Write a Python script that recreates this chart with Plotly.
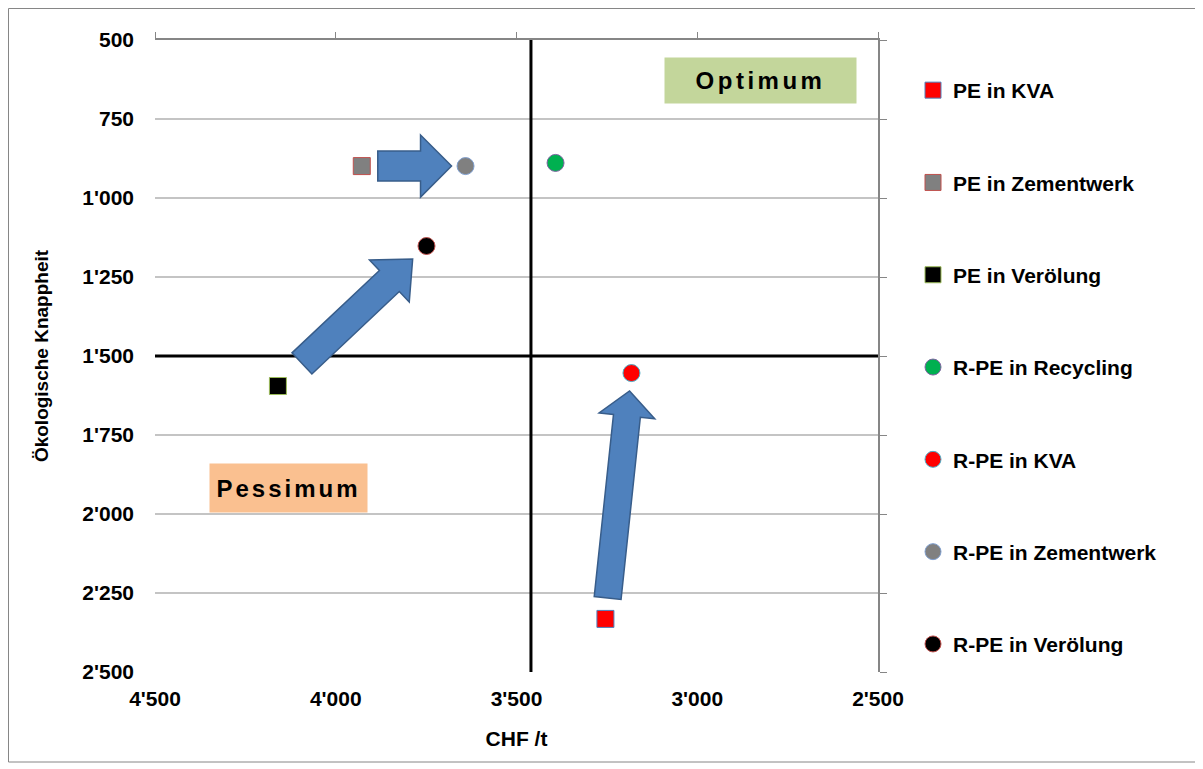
import math
import plotly.graph_objects as go

# ---------------- data ----------------
series_names = ["PE in KVA", "PE in Zementwerk", "PE in Verölung",
                "R-PE in Recycling", "R-PE in KVA", "R-PE in Zementwerk", "R-PE in Verölung"]
cost_chf = [3254, 3928, 4160, 3392, 3182, 3641, 3749]
eco_scarcity = [2332, 899, 1595, 889, 1554, 899, 1152]

x_tickvals = [4500, 4000, 3500, 3000, 2500]
x_ticktext = ["4'500", "4'000", "3'500", "3'000", "2'500"]
y_tickvals = [500, 750, 1000, 1250, 1500, 1750, 2000, 2250, 2500]
y_ticktext = ["500", "750", "1'000", "1'250", "1'500", "1'750", "2'000", "2'250", "2'500"]

# arrows: from series -> to series
arrow_pairs = [("PE in Zementwerk", "R-PE in Zementwerk"),
               ("PE in Verölung", "R-PE in Verölung"),
               ("PE in KVA", "R-PE in KVA")]

# reference lines (quadrant dividers)
divider_x = 3460
divider_y = 1500

# ---------------- styles ----------------
symbols = ["square", "square", "square", "circle", "circle", "circle", "circle"]
fill_colors = ["#FF0000", "#808080", "#000000", "#00B050", "#FF0000", "#808080", "#000000"]
edge_colors = ["#4F81BD", "#C0504D", "#9BBB59", "#8064A2", "#4BACC6", "#7F9FCF", "#C0504D"]
# gaps (px) at tail/tip, shaft width, head width, head length
arrow_geom = [(16, 14, 30, 62, 31), (33, 19, 29, 58, 32), (21, 18, 27, 56, 25)]

FONT = "Liberation Sans, Arial, sans-serif"
W, H = 1203, 769
ML, MT = 147, 32
PW, PH = 723, 632
MR, MB = W - ML - PW, H - MT - PH
X_RANGE = [4500, 2500]
Y_RANGE = [2500, 500]


def to_px(x, y):
    return ((X_RANGE[0] - x) / (X_RANGE[0] - X_RANGE[1]) * PW,
            (y - Y_RANGE[1]) / (Y_RANGE[0] - Y_RANGE[1]) * PH)


def to_data(px, py):
    return (X_RANGE[0] - px / PW * (X_RANGE[0] - X_RANGE[1]),
            Y_RANGE[1] + py / PH * (Y_RANGE[0] - Y_RANGE[1]))


fig = go.Figure()
for i, name in enumerate(series_names):
    fig.add_trace(go.Scatter(
        x=[cost_chf[i]], y=[eco_scarcity[i]], mode="markers", name=name,
        legendgroup=name,
        marker=dict(symbol=symbols[i], size=17, color=fill_colors[i],
                    line=dict(color=edge_colors[i], width=1)),
    ))

# helper trace so the mirror axes are drawn
fig.add_trace(go.Scatter(x=[3500], y=[1500], xaxis="x2", yaxis="y2", mode="markers",
                         marker=dict(opacity=0), showlegend=False, hoverinfo="skip"))

shapes = []
# quadrant lines
shapes.append(dict(type="line", xref="x", yref="y", x0=divider_x, x1=divider_x,
                   y0=Y_RANGE[1], y1=Y_RANGE[0], line=dict(color="black", width=3)))
shapes.append(dict(type="line", xref="x", yref="y", x0=X_RANGE[0], x1=X_RANGE[1] - 20,
                   y0=divider_y, y1=divider_y, line=dict(color="black", width=3)))

# block arrows derived from data points
for (a, b), (g0, g1, sw, hw, hl) in zip(arrow_pairs, arrow_geom):
    ia, ib = series_names.index(a), series_names.index(b)
    sx, sy = to_px(cost_chf[ia], eco_scarcity[ia])
    ex, ey = to_px(cost_chf[ib], eco_scarcity[ib])
    L = math.hypot(ex - sx, ey - sy)
    ux, uy = (ex - sx) / L, (ey - sy) / L
    nx, ny = -uy, ux
    tx, ty = sx + ux * g0, sy + uy * g0
    px_, py_ = ex - ux * g1, ey - uy * g1
    bx, by = px_ - ux * hl, py_ - uy * hl
    pts = [(tx + nx * sw / 2, ty + ny * sw / 2), (bx + nx * sw / 2, by + ny * sw / 2),
           (bx + nx * hw / 2, by + ny * hw / 2), (px_, py_),
           (bx - nx * hw / 2, by - ny * hw / 2), (bx - nx * sw / 2, by - ny * sw / 2),
           (tx - nx * sw / 2, ty - ny * sw / 2)]
    dpts = [to_data(*p) for p in pts]
    path = "M " + " L ".join(f"{x:.2f},{y:.2f}" for x, y in dpts) + " Z"
    shapes.append(dict(type="path", xref="x", yref="y", path=path,
                       fillcolor="#4F81BD", line=dict(color="#385D8A", width=1.5)))

# outer chart border
shapes.append(dict(type="rect", xref="paper", yref="paper",
                   x0=(0.5 - ML) / PW, x1=(1190 - ML) / PW,
                   y0=1 - (754 - MT) / PH, y1=1 - (0.5 - MT) / PH,
                   line=dict(color="#868686", width=1), fillcolor="rgba(0,0,0,0)"))

annotations = [
    dict(x=2825, y=628, xref="x", yref="y", showarrow=False,
         text='<b><span style="letter-spacing:3.5px">Optimum</span></b>',
         font=dict(family=FONT, size=24, color="black"),
         bgcolor="#C3D69B", width=191, height=45, borderpad=0),
    dict(x=4131, y=1918, xref="x", yref="y", showarrow=False,
         text='<b><span style="letter-spacing:3px">Pessimum</span></b>',
         font=dict(family=FONT, size=24, color="black"),
         bgcolor="#FAC090", width=157, height=48, borderpad=0),
]

tickfont = dict(family=FONT, size=21, color="black", weight="bold")

fig.update_layout(
    width=W, height=H,
    margin=dict(l=ML, r=MR, t=MT, b=MB, autoexpand=False),
    paper_bgcolor="white", plot_bgcolor="white",
    font=dict(family=FONT, color="black"),
    shapes=shapes, annotations=annotations,
    xaxis=dict(range=X_RANGE, tickvals=x_tickvals, ticktext=x_ticktext, tickfont=tickfont,
               showgrid=False, zeroline=False, showline=False, ticks="",
               ticklabelstandoff=12,
               title=dict(text="<b>CHF /t</b>", font=dict(family=FONT, size=21, color="black"),
                          standoff=22)),
    yaxis=dict(range=Y_RANGE, tickvals=y_tickvals, ticktext=y_ticktext, tickfont=tickfont,
               showgrid=True, gridcolor="#C4C4C4", gridwidth=1.5, zeroline=False,
               showline=False, ticks="", ticklabelstandoff=20,
               title=dict(text="<b>Ökologische Knappheit</b>",
                          font=dict(family=FONT, size=19, color="black"), standoff=28)),
    xaxis2=dict(range=X_RANGE, overlaying="x", side="top", tickvals=x_tickvals,
                showticklabels=False, ticks="outside", ticklen=6, tickcolor="#868686",
                showline=True, linecolor="#868686", linewidth=1.5, showgrid=False, zeroline=False),
    yaxis2=dict(range=Y_RANGE, overlaying="y", side="right", tickvals=y_tickvals,
                showticklabels=False, ticks="outside", ticklen=7, tickcolor="#868686",
                showline=True, linecolor="#868686", linewidth=1.5, showgrid=False, zeroline=False),
    legend=dict(x=(905 - ML) / PW, xanchor="left", y=1 - (62 - MT) / PH, yanchor="top",
                font=dict(family=FONT, size=21, color="black", weight="bold"),
                tracegroupgap=62, bgcolor="rgba(0,0,0,0)"),
    showlegend=True,
)

fig.write_html("out.html")
